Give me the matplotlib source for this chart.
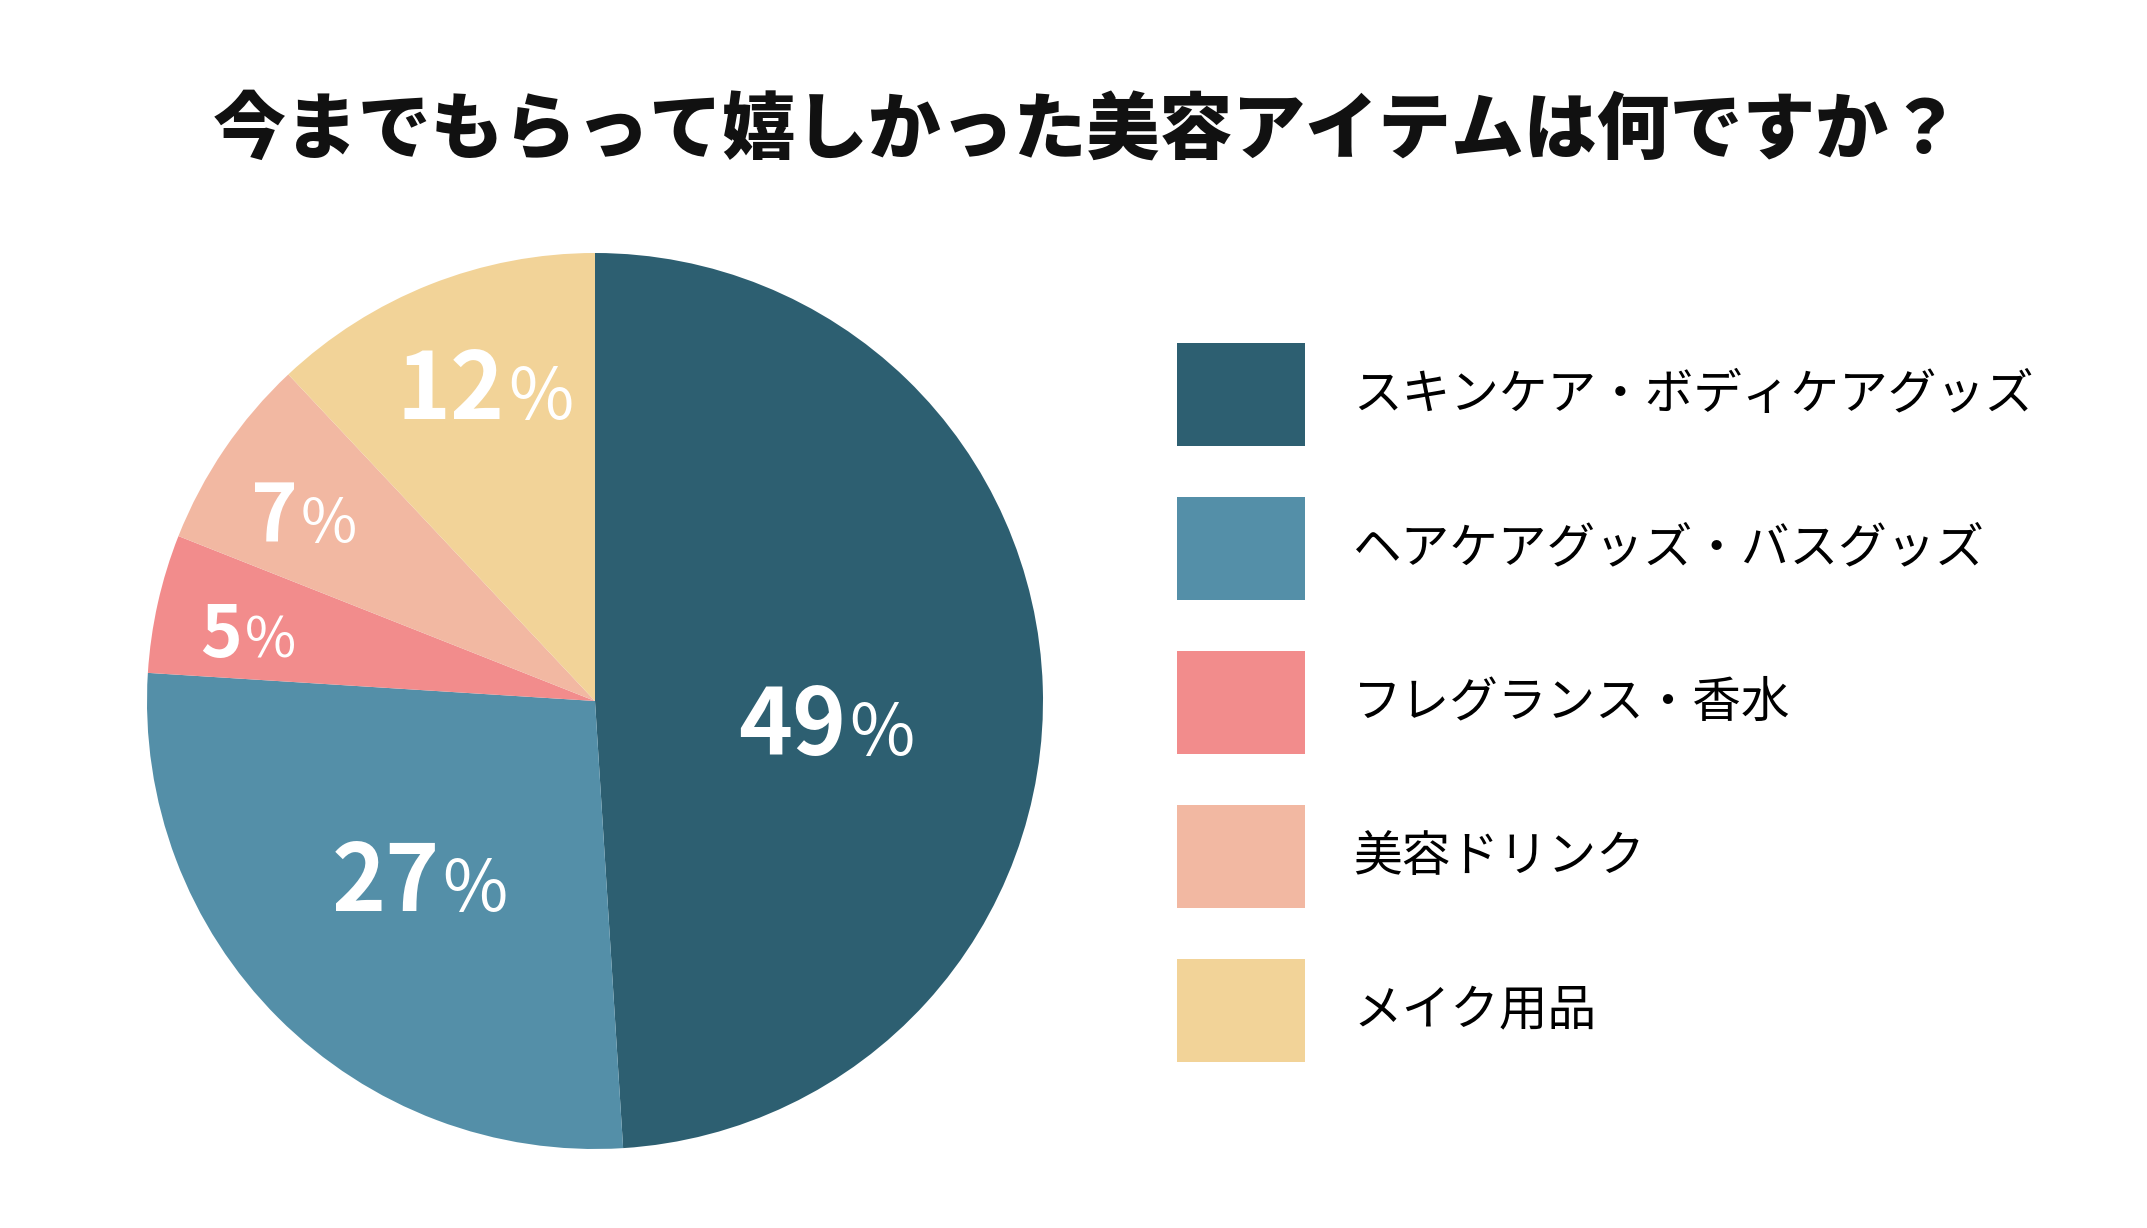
import numpy as np
import matplotlib
matplotlib.use("Agg")
import matplotlib.pyplot as plt
import matplotlib.transforms as mtransforms

plt.rcParams['font.family'] = ['Noto Sans CJK JP', 'DejaVu Sans']

# ---- data ----
title = "今までもらって嬉しかった美容アイテムは何ですか？"
categories = ["スキンケア・ボディケアグッズ", "ヘアケアグッズ・バスグッズ",
              "フレグランス・香水", "美容ドリンク", "メイク用品"]
values = [49, 27, 5, 7, 12]
colors = ["#2D5F71", "#548FA8", "#F28C8C", "#F2B8A2", "#F2D398"]

# label styling (radius fraction, angle offset deg, digit size, % size)
label_r = [0.53, 0.61, 0.78, 0.74, 0.675]
label_dang = [-14.9, 5.1, 5.4, 5.5, -0.3]
num_size = [66, 66, 51, 57, 66]
pct_size = [51, 51, 40, 44, 51]

W, H, DPI = 2147, 1228, 100
fig = plt.figure(figsize=(W / DPI, H / DPI), dpi=DPI)
fig.patch.set_facecolor("white")

cx, cy, R = 595, 701, 448
ax = fig.add_axes([(cx - R) / W, 1 - (cy + R) / H, 2 * R / W, 2 * R / H])
wedges, _ = ax.pie(values, colors=colors, startangle=90, counterclock=False,
                   radius=1, wedgeprops=dict(linewidth=0))
ax.set_xlim(-1, 1)
ax.set_ylim(-1, 1)
ax.set_aspect('equal')
ax.axis('off')

fig.text(1087 / W, 1 - 131 / H, title, ha='center', va='center',
         fontsize=52.5, fontweight='heavy', color='#111111')

# percentage labels
renderer = fig.canvas.get_renderer()
total = sum(values)
start = 90.0
for i, v in enumerate(values):
    span = 360.0 * v / total
    mid = start - span / 2
    start -= span
    ang = np.deg2rad(mid + label_dang[i])
    x = label_r[i] * np.cos(ang)
    y = label_r[i] * np.sin(ang)
    t1 = ax.text(x, y, str(v), ha='left', va='baseline', color='white',
                 fontsize=num_size[i], fontweight='bold')
    t2 = ax.text(x, y, "%", ha='left', va='baseline', color='white',
                 fontsize=pct_size[i], fontweight='normal')
    w1 = t1.get_window_extent(renderer).width
    w2 = t2.get_window_extent(renderer).width
    gap = 3
    tot = w1 + gap + w2
    t1.set_transform(mtransforms.offset_copy(ax.transData, fig, x=-tot / 2, y=0, units='dots'))
    t2.set_transform(mtransforms.offset_copy(ax.transData, fig, x=-tot / 2 + w1 + gap, y=0, units='dots'))

# legend
fs = 35
fs_px = fs * DPI / 72
approx_h = 0.735 * fs_px
leg = fig.legend(wedges, categories, loc='upper left',
                 bbox_to_anchor=(1177 / W, 1 - 343 / H),
                 frameon=False, fontsize=fs, borderpad=0, borderaxespad=0,
                 handlelength=128 / fs_px, handleheight=103 / approx_h,
                 labelspacing=51 / fs_px, handletextpad=48 / fs_px)

fig.savefig("out.png", dpi=DPI, facecolor="white")
